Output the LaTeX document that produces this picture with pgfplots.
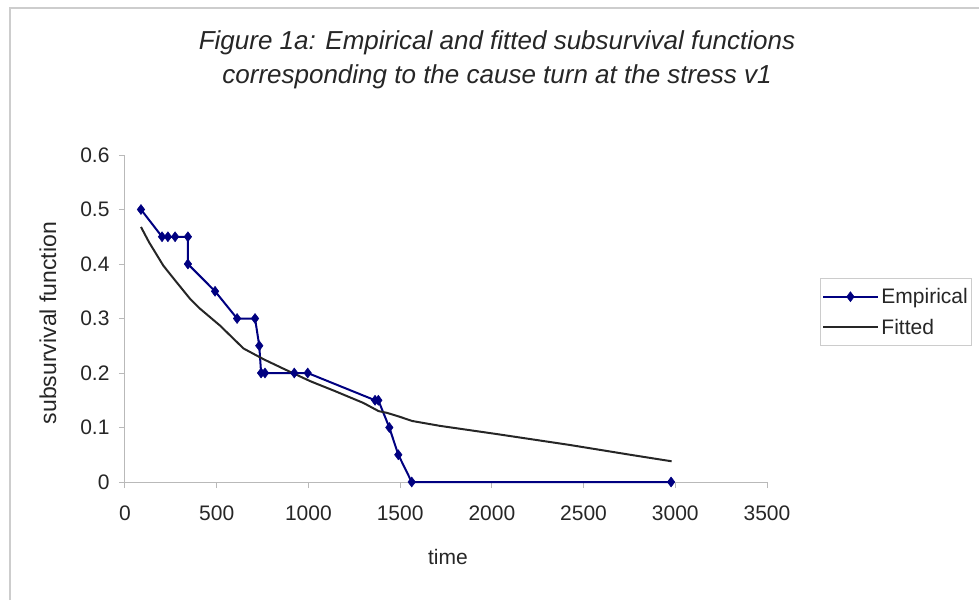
\documentclass[border=0pt]{standalone}
\usepackage{fontspec}
\setmainfont{Liberation Sans}
\usepackage{pgfplots}
\pgfplotsset{compat=1.18}
\definecolor{excelnavy}{RGB}{0,0,128}
\definecolor{framegray}{RGB}{205,205,205}

\begin{document}
\begin{tikzpicture}
\path[use as bounding box] (-125pt,-118pt) rectangle (854pt,482pt);
\draw[framegray, line width=1.2pt] (-115pt,-118pt) -- (-115pt,474pt) -- (854pt,474pt);
\begin{axis}[
  at={(0pt,0pt)}, anchor=south west,
  scale only axis,
  width=642pt, height=327pt,
  xmin=0, xmax=3500,
  ymin=0, ymax=0.6,
  xtick={0,500,...,3500},
  ytick={0,0.1,...,0.6},
  yticklabel style={/pgf/number format/fixed,/pgf/number format/precision=1, xshift=-6pt},
  xticklabel style={yshift=-14pt},
  /pgf/number format/1000 sep={},
  /pgf/number format/assume math mode=true,
  scaled ticks=false,
  axis x line*=bottom,
  axis y line*=left,
  axis line style={gray!55, line width=1pt, -},
  tick style={gray!55, line width=1pt},
  tick align=outside,
  major tick length=6pt,
  tick label style={font=\fontsize{21}{25}\selectfont, text=black!85},
  xlabel={time},
  ylabel={subsurvival function},
  label style={font=\fontsize{21}{25}\selectfont, text=black!85},
  xlabel style={at={(axis description cs:0.503,-0.229)}, anchor=center},
  ylabel style={at={(axis description cs:-0.12,0.486)}, anchor=center, font=\fontsize{23}{27}\selectfont},
  clip=false,
  legend style={
    at={(1.0826,0.624)}, anchor=north west,
    draw=gray!40, line width=0.8pt,
    font=\fontsize{21}{25}\selectfont,
    text=black!85,
    inner xsep=2pt, inner ysep=8pt,
    row sep=10pt,
    cells={anchor=west},
  },
  legend image code/.code={
    \draw[mark repeat=2,mark phase=2,#1] plot coordinates {(0pt,0pt) (27pt,0pt) (55pt,0pt)};
  },
]
\addplot[excelnavy, line width=2pt, mark=diamond*, mark size=5pt,
  mark options={fill=excelnavy, line width=0.5pt}] coordinates {
  (87,0.5) (202,0.45) (234,0.45) (273,0.45) (343,0.45) (343,0.4)
  (491,0.35) (611,0.30) (709,0.30) (732,0.25) (742,0.2) (763,0.2)
  (923,0.2) (996,0.2) (1363,0.15) (1381,0.15) (1441,0.1) (1490,0.05)
  (1563,0) (2977,0)
};
\addlegendentry{Empirical}
\addplot[black!85, line width=2pt, no marks] coordinates {
  (87,0.468) (131,0.44) (209,0.397) (273,0.37) (355,0.336) (409,0.318)
  (518,0.287) (646,0.245) (757,0.225) (863,0.208) (1010,0.185) (1136,0.168)
  (1300,0.145) (1383,0.13) (1427,0.127) (1495,0.12) (1565,0.112) (1717,0.103)
  (2026,0.088) (2424,0.068) (2754,0.05) (2980,0.038)
};
\addlegendentry{Fitted}
\end{axis}
\node[align=center, font=\fontsize{26}{34}\selectfont\itshape, text=black!85] at (372pt,422pt)
  {Figure 1a: Empirical and fitted subsurvival functions\\corresponding to the cause turn at the stress v1};
\end{tikzpicture}
\end{document}
